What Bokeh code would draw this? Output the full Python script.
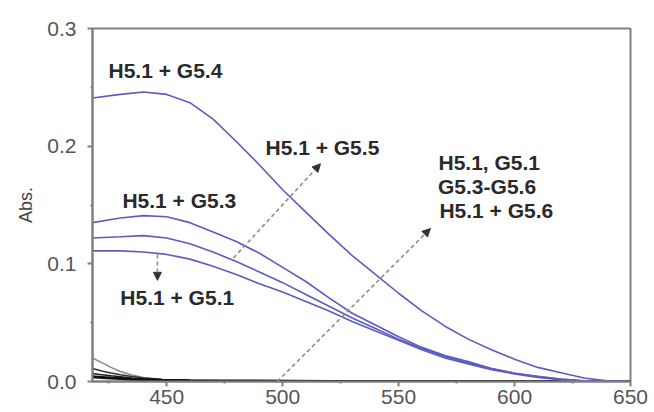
from bokeh.plotting import figure
from bokeh.models import FixedTicker, PrintfTickFormatter, Arrow, NormalHead, Label, Range1d
from bokeh.embed import file_html
from bokeh.resources import INLINE

# wavelengths (nm) for the blue spectra
wl = [418, 430, 440, 450, 460, 470, 480, 490, 500, 510, 520, 530, 540, 550, 560,
      570, 580, 590, 600, 610, 620, 630, 640, 650]
g54 = [0.241, 0.244, 0.246, 0.244, 0.237, 0.223, 0.204, 0.184, 0.163, 0.144, 0.125,
       0.107, 0.091, 0.075, 0.060, 0.047, 0.036, 0.027, 0.019, 0.012, 0.0075, 0.003, 0.0005, 0.0]
g53 = [0.135, 0.139, 0.141, 0.140, 0.135, 0.127, 0.119, 0.109, 0.097, 0.085, 0.071,
       0.058, 0.048, 0.038, 0.029, 0.022, 0.017, 0.011, 0.007, 0.0045, 0.002, 0.0005, 0.0, 0.0]
g52 = [0.122, 0.123, 0.124, 0.122, 0.117, 0.110, 0.102, 0.093, 0.084, 0.074, 0.064,
       0.054, 0.045, 0.036, 0.028, 0.021, 0.016, 0.011, 0.007, 0.004, 0.0018, 0.0004, 0.0, 0.0]
g51 = [0.111, 0.111, 0.110, 0.108, 0.104, 0.098, 0.091, 0.083, 0.076, 0.068, 0.060,
       0.051, 0.043, 0.035, 0.027, 0.020, 0.015, 0.010, 0.0065, 0.0035, 0.0015, 0.0003, 0.0, 0.0]

# near-zero spectra (H5.1, G5.1, G5.3-G5.6)
wl_low = [418, 422, 426, 430, 435, 440, 448, 460, 480, 520, 560, 600, 650]
low_gray = [0.020, 0.016, 0.012, 0.0085, 0.0055, 0.0035, 0.0015, 0.0007, 0.0003, 0.0, 0.0, 0.0, 0.0]
low_b1 = [0.011, 0.009, 0.0072, 0.0058, 0.0042, 0.003, 0.0018, 0.001, 0.0005, 0.0002, 0.0, 0.0, 0.0]
low_b2 = [0.0068, 0.0058, 0.0048, 0.0040, 0.003, 0.0022, 0.0014, 0.0009, 0.0005, 0.0002, 0.0, 0.0, 0.0]
low_b3 = [0.004, 0.0035, 0.003, 0.0026, 0.002, 0.0016, 0.0011, 0.0007, 0.0004, 0.0001, 0.0, 0.0, 0.0]

x_ticks = [450, 500, 550, 600, 650]
x_minor = [425, 475, 525, 575, 625]
y_ticks = [0.0, 0.1, 0.2, 0.3]
y_minor = [0.05, 0.15, 0.25]

FONT = "Liberation Sans"
BLUE = "#5c5cc0"
AX = "#808080"

p = figure(width=654, height=412, x_range=Range1d(418, 650), y_range=Range1d(0, 0.3),
           output_backend="svg", toolbar_location=None,
           min_border_left=92, min_border_right=24, min_border_top=28, min_border_bottom=31)
p.grid.visible = False
p.background_fill_color = "white"
p.border_fill_color = "white"
p.outline_line_color = AX
p.outline_line_width = 2

for ax in (p.xaxis[0], p.yaxis[0]):
    ax.axis_line_color = AX
    ax.axis_line_width = 2
    ax.major_tick_line_color = AX
    ax.minor_tick_line_color = AX
    ax.major_tick_line_width = 2
    ax.minor_tick_line_width = 2
    ax.major_tick_out = 5
    ax.major_tick_in = 0
    ax.minor_tick_out = 2
    ax.minor_tick_in = 0
    ax.major_label_text_font = FONT
    ax.major_label_text_font_size = "21px"
    ax.major_label_text_color = "#555555"

p.xaxis.ticker = FixedTicker(ticks=x_ticks, minor_ticks=x_minor)
p.yaxis.ticker = FixedTicker(ticks=y_ticks, minor_ticks=y_minor)
p.yaxis.formatter = PrintfTickFormatter(format="%.1f")
p.xaxis.major_label_standoff = 3
p.yaxis.major_label_standoff = 11
p.yaxis.axis_label = "Abs."
p.yaxis.axis_label_text_font = FONT
p.yaxis.axis_label_text_font_style = "normal"
p.yaxis.axis_label_text_font_size = "18px"
p.yaxis.axis_label_text_color = "#444444"
p.yaxis.axis_label_standoff = 8

# near-zero spectra
p.line(wl_low, low_gray, line_color="#8a8a8a", line_width=1.5)
p.line(wl_low, low_b1, line_color="#333333", line_width=1.5)
p.line(wl_low, low_b2, line_color="#222222", line_width=1.5)
p.line(wl_low, low_b3, line_color="#111111", line_width=3)

# blue spectra
for ys in (g51, g52, g53, g54):
    p.line(wl, ys, line_color=BLUE, line_width=1.6)

# arrows
def dashed_arrow(x0, y0, x1, y1):
    p.add_layout(Arrow(x_start=x0, y_start=y0, x_end=x1, y_end=y1,
                       line_color="#8c8c8c", line_width=1.6, line_dash="4 3",
                       end=NormalHead(size=8, fill_color="#333333", line_color="#333333")))

dashed_arrow(478.8, 0.105, 516.3, 0.185)
dashed_arrow(497.7, 0.0, 563.7, 0.130)
dashed_arrow(446.0, 0.108, 446.0, 0.086)

labels = [
    ("H5.1 + G5.4", 424.9, 0.264),
    ("H5.1 + G5.5", 492.6, 0.199),
    ("H5.1 + G5.3", 430.9, 0.154),
    ("H5.1 + G5.1", 430.0, 0.071),
    ("H5.1, G5.1", 567.2, 0.186),
    ("G5.3-G5.6", 567.0, 0.166),
    ("H5.1 + G5.6", 567.6, 0.145),
]
for txt, lx, ly in labels:
    p.add_layout(Label(x=lx, y=ly, text=txt, text_font=FONT, text_font_style="bold",
                       text_font_size="21px", text_color="#2a2a2a",
                       text_baseline="middle", text_align="left"))

open("out.html", "w").write(file_html(p, INLINE))
